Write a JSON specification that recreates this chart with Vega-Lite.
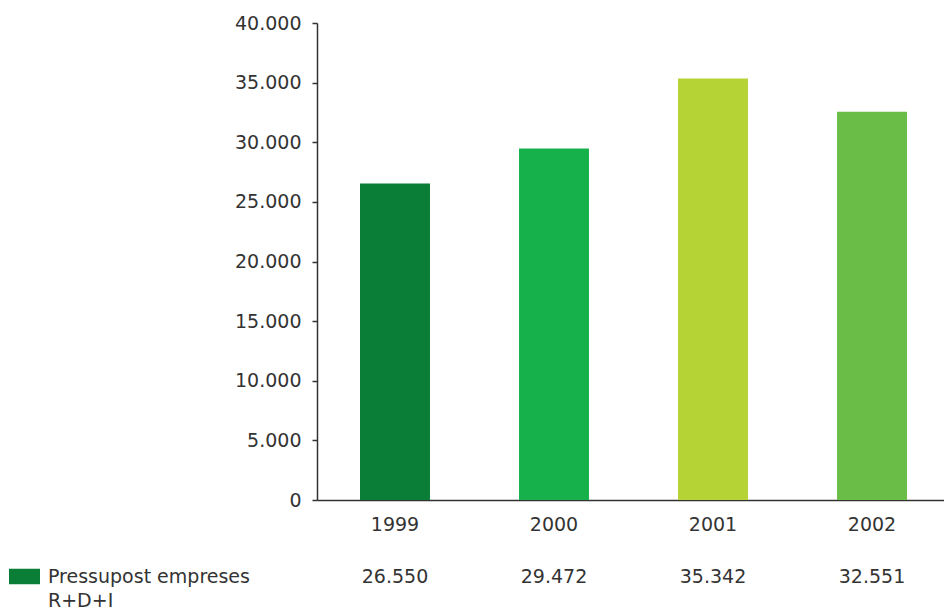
{
  "$schema": "https://vega.github.io/schema/vega-lite/v6.json",
  "autosize": {"type": "none"},
  "padding": {"left": 317, "top": 23, "right": 0, "bottom": 108},
  "width": 627,
  "height": 477,
  "background": "white",
  "config": {
    "view": {"stroke": null},
    "locale": {"number": {"decimal": ",", "thousands": ".", "grouping": [3], "currency": ["", " €"]}},
    "font": "DejaVu Sans"
  },
  "data": {
    "values": [
      {"year": "1999", "value": 26550, "series": "Pressupost empreses R+D+I"},
      {"year": "2000", "value": 29472, "series": "Pressupost empreses R+D+I"},
      {"year": "2001", "value": 35342, "series": "Pressupost empreses R+D+I"},
      {"year": "2002", "value": 32551, "series": "Pressupost empreses R+D+I"}
    ]
  },
  "encoding": {
    "x": {
      "field": "year", "type": "nominal", "title": null,
      "scale": {"type": "band", "paddingInner": 0.56, "paddingOuter": 0.2516, "align": 0.5375},
      "axis": {
        "labelAngle": 0, "labelFont": "DejaVu Sans", "labelFontSize": 19, "labelColor": "#333333",
        "ticks": false, "tickSize": 0, "labelPadding": 15, "domainColor": "#333333", "domainWidth": 1.5,
        "grid": false
      }
    }
  },
  "layer": [
    {
      "mark": {"type": "bar"},
      "encoding": {
        "y": {
          "field": "value", "type": "quantitative", "title": null,
          "scale": {"domain": [0, 40000], "nice": false},
          "axis": {
            "values": [0, 5000, 10000, 15000, 20000, 25000, 30000, 35000, 40000],
            "format": ",d", "labelFont": "DejaVu Sans", "labelFontSize": 19, "labelColor": "#333333",
            "tickSize": 5, "tickColor": "#333333", "tickWidth": 1.5, "labelPadding": 11,
            "domainColor": "#333333", "domainWidth": 1.5, "grid": false
          }
        },
        "color": {
          "field": "year", "type": "nominal",
          "scale": {"domain": ["1999", "2000", "2001", "2002"], "range": ["#0a7d36", "#17b14c", "#b6d335", "#6abd46"]},
          "legend": null
        }
      }
    },
    {
      "mark": {"type": "text", "baseline": "alphabetic", "align": "center", "dy": 83, "fontSize": 19, "font": "DejaVu Sans", "color": "#333333"},
      "encoding": {
        "y": {"datum": 0, "type": "quantitative"},
        "text": {"field": "value", "type": "quantitative", "format": ",d"}
      }
    },
    {
      "mark": {"type": "point", "opacity": 0, "filled": true},
      "encoding": {
        "y": {"field": "value", "type": "quantitative"},
        "fill": {
          "field": "series", "type": "nominal",
          "scale": {"range": ["#0a7d36"]},
          "legend": {
            "title": null, "orient": "none", "legendX": -308, "legendY": 538,
            "padding": 0, "symbolType": "M-1,-0.5H1V0.5H-1Z", "symbolSize": 961,
            "symbolOpacity": 1, "symbolStrokeWidth": 0,
            "labelExpr": "['Pressupost empreses', 'R+D+I']",
            "labelFont": "DejaVu Sans", "labelFontSize": 19, "labelColor": "#333333",
            "labelOffset": 8, "labelLimit": 400, "labelBaseline": "alphabetic",
            "encode": {"labels": {"update": {"lineHeight": {"value": 24}, "dy": {"value": 6}}}}
          }
        }
      }
    }
  ]
}
